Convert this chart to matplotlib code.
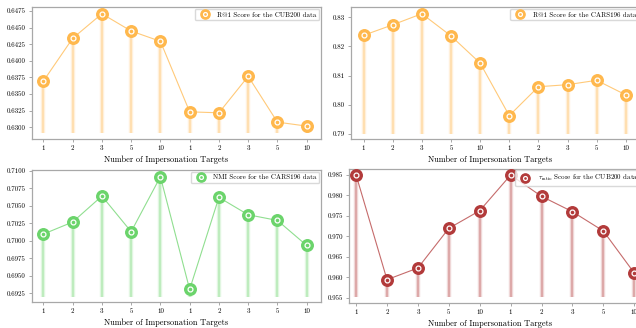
import matplotlib
matplotlib.use("Agg")
import matplotlib.pyplot as plt
from matplotlib.ticker import MultipleLocator, FormatStrFormatter
from matplotlib.legend_handler import HandlerTuple

plt.rcParams['font.family'] = ['cmr10', 'DejaVu Serif']
plt.rcParams['mathtext.fontset'] = 'cm'
plt.rcParams['axes.formatter.use_mathtext'] = True

# ---- data ----
x_labels = ['1', '2', '3', '5', '10', '1', '2', '3', '5', '10']

r1_cub200 = [0.63696, 0.64339, 0.64709, 0.64449, 0.64294,
             0.63233, 0.63218, 0.63767, 0.63078, 0.63018]
r1_cars196 = [0.8238, 0.8274, 0.8312, 0.8236, 0.8143,
              0.7963, 0.8062, 0.8069, 0.8084, 0.8034]
nmi_cars196 = [0.70095, 0.70267, 0.70638, 0.70129, 0.70914,
               0.69305, 0.70619, 0.70371, 0.70290, 0.69933]
tau_cub200 = [0.98492, 0.95946, 0.96230, 0.97195, 0.97624,
              0.98492, 0.97973, 0.97600, 0.97130, 0.96108]

labels = ['R@1 Score for the CUB200 data',
          'R@1 Score for the CARS196 data',
          'NMI Score for the CARS196 data',
          r'$\tau_{\rm ratio}$ Score for the CUB200 data']

W, H = 636, 328
fig = plt.figure(figsize=(W / 100, H / 100), dpi=100)

def px_axes(left, top, width, height):
    return fig.add_axes([left / W, 1 - (top + height) / H, width / W, height / H])

panels = [
    dict(rect=(31.7, 7.3, 289.3, 131.7), xlim=(-0.40, 9.49), ylim=(0.62824, 0.64806),
         vals=r1_cub200, base=0.6291, color='#FFB84D', step=0.0025, fmt='%.4f',
         lab=labels[0], lx=0.466),
    dict(rect=(351.0, 7.3, 289.4, 131.7), xlim=(-0.43, 9.50), ylim=(0.7883, 0.8334),
         vals=r1_cars196, base=0.7900, color='#FFB84D', step=0.01, fmt='%.2f',
         lab=labels[1], lx=0.4796),
    dict(rect=(31.7, 170.0, 289.3, 132.3), xlim=(-0.40, 9.49), ylim=(0.69121, 0.7101),
         vals=nmi_cars196, base=0.6920, color='#6BD46B', step=0.0025, fmt='%.4f',
         lab=labels[2], lx=0.466),
    dict(rect=(349.3, 168.7, 293.0, 134.3), xlim=(-0.22, 9.26), ylim=(0.95378, 0.98646),
         vals=tau_cub200, base=0.9552, color='#B23A3A', step=0.005, fmt='%.3f',
         lab=labels[3], lx=0.4795),
]

xs = list(range(len(x_labels)))
spine_col = '#A8A8A8'

for p in panels:
    ax = px_axes(*p['rect'])
    c = p['color']
    v = p['vals']
    ax.vlines(xs, p['base'], v, color=c, lw=3.2, alpha=0.2, zorder=1)
    ax.vlines(xs, p['base'], v, color=c, lw=1.2, alpha=0.35, zorder=1)
    ax.plot(xs, v, '-', color=c, lw=0.8, alpha=0.75, zorder=2)
    big, = ax.plot(xs, v, 'o', ls='none', color=c, ms=8.3, mec=c, zorder=3, clip_on=False)
    ring, = ax.plot(xs, v, 'o', ls='none', mfc=c, mec='white', ms=3.5, mew=0.9,
                    zorder=4, clip_on=False)
    ax.set_xlim(*p['xlim'])
    ax.set_ylim(*p['ylim'])
    ax.set_xticks(xs)
    ax.set_xticklabels(x_labels)
    ax.yaxis.set_major_locator(MultipleLocator(p['step']))
    ax.yaxis.set_major_formatter(FormatStrFormatter(p['fmt']))
    ax.tick_params(labelsize=5, length=2.5, width=0.7, color=spine_col, pad=2)
    for s in ax.spines.values():
        s.set_color(spine_col)
        s.set_linewidth(0.9)
    ax.set_xlabel('Number of Impersonation Targets', fontsize=6, labelpad=3)
    ax.xaxis.label.set_x(p['lx'])
    ax.legend([(big, ring)], [p['lab']],
              handler_map={tuple: HandlerTuple(ndivide=1, pad=0)},
              loc='upper right', fontsize=5, markerscale=0.8, borderaxespad=0.25,
              handletextpad=0.8, borderpad=0.4, handlelength=2.0, framealpha=0.8,
              edgecolor='#D0D0D0')

fig.savefig('out.png', dpi=100)
